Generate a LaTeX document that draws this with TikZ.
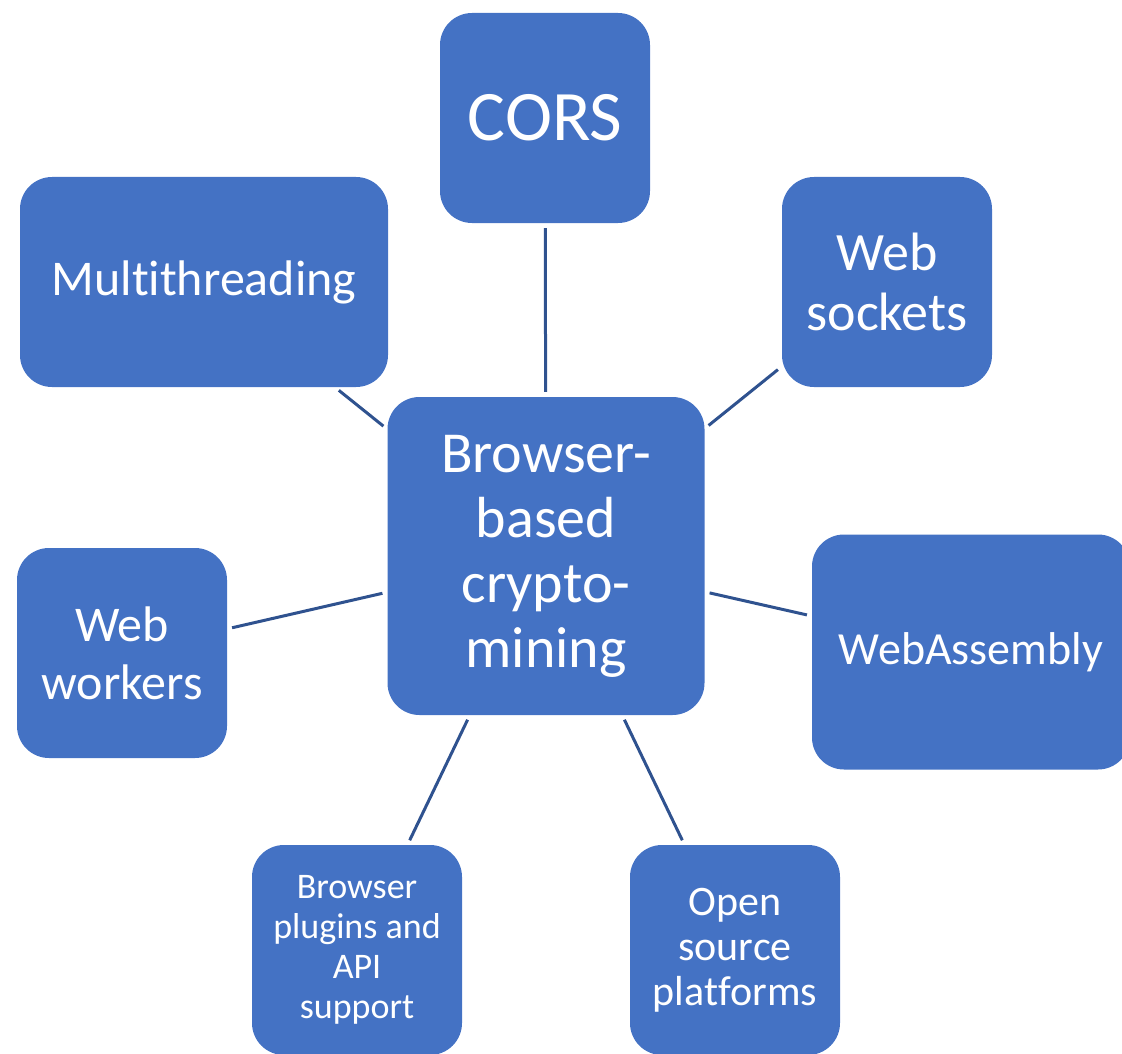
\documentclass[tikz,border=0pt]{standalone}
\usepackage{fontspec}
\setmainfont{Carlito}[Ligatures=NoCommon]
\definecolor{boxblue}{HTML}{4472C4}
\definecolor{linkblue}{HTML}{2F528F}
\tikzset{
  box/.style={fill=boxblue, draw=none, rounded corners=32pt, text=white,
    align=center, inner sep=0pt, anchor=center},
  link/.style={draw=linkblue, line width=3pt, shorten <=5pt, shorten >=5pt},
}
\begin{document}
\begin{tikzpicture}[x=1pt,y=-1pt]
\useasboundingbox (0,0) rectangle (1122,1054);
\clip (0,0) rectangle (1122,1054);
\node[box, minimum width=210pt, minimum height=210pt,
  font=\fontsize{71}{80}\selectfont] (cors) at (545,118) {CORS};
\node[box, minimum width=368pt, minimum height=210pt,
  font=\fontsize{50}{60}\selectfont] (multi) at (204,282) {Multithreading};
\node[box, minimum width=210pt, minimum height=210pt,
  font=\fontsize{54}{60}\selectfont] (sockets) at (887,282) {Web\\sockets};
\node[box, minimum width=317pt, minimum height=318pt,
  font=\fontsize{58}{65}\selectfont] (core) at (546,556) {Browser-\\based\\crypto-\\mining};
\node[box, minimum width=210pt, minimum height=210pt,
  font=\fontsize{50}{58}\selectfont] (workers) at (122,653) {Web\\workers};
\node[box, minimum width=318pt, minimum height=235pt,
  font=\fontsize{46}{52}\selectfont] (wasm) at (971,652) {WebAssembly};
\node[box, minimum width=210pt, minimum height=210pt,
  font=\fontsize{36}{40}\selectfont] (plugins) at (357,950) {Browser\\plugins and\\API\\support};
\node[box, minimum width=210pt, minimum height=210pt,
  font=\fontsize{42}{45}\selectfont] (opensrc) at (735,950) {Open\\source\\platforms};
\draw[link] (cors) -- (core);
\draw[link] (multi) -- (core);
\draw[link] (sockets) -- (core);
\draw[link] (workers) -- (core);
\draw[link] (wasm) -- (core);
\draw[link] (plugins) -- (core);
\draw[link] (opensrc) -- (core);
\end{tikzpicture}
\end{document}
